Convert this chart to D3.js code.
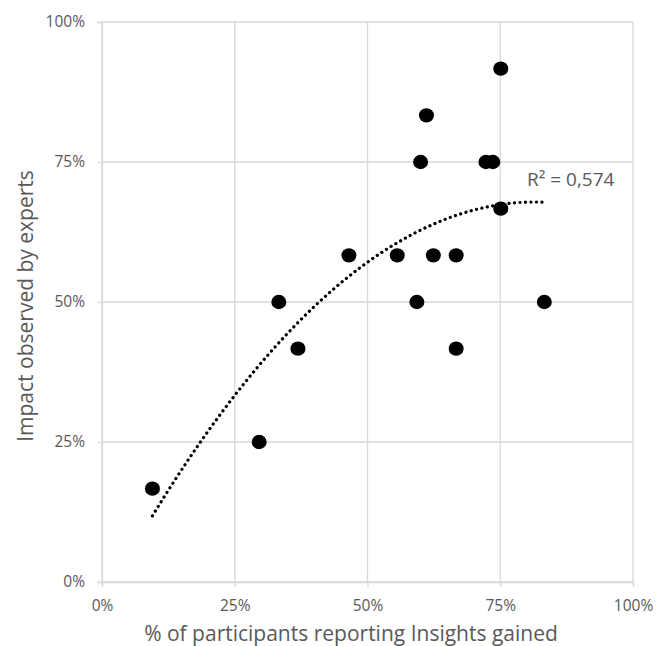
<!DOCTYPE html>
<html>
<head>
<meta charset="utf-8">
<script src="https://cdn.jsdelivr.net/npm/d3@7"></script>
<style>
  html, body { margin: 0; padding: 0; background: #fff; }
  svg { display: block; }
</style>
</head>
<body>
<svg id="chart" width="665" height="646"></svg>
<script>
// Share of participants reporting insights (x) vs impact observed by experts (y)
const insightsShare = [0.095, 0.296, 0.333, 0.369, 0.465, 0.556, 0.593, 0.600, 0.611, 0.624, 0.667, 0.667, 0.723, 0.736, 0.751, 0.751, 0.833];
const expertImpact  = [0.1667, 0.25, 0.50, 0.4167, 0.5833, 0.5833, 0.50, 0.75, 0.8333, 0.5833, 0.5833, 0.4167, 0.75, 0.75, 0.9167, 0.6667, 0.50];
const tickValues = [0, 0.25, 0.5, 0.75, 1];
const rSquaredLabel = "R² = 0,574";
const xTitle = "% of participants reporting Insights gained";
const yTitle = "Impact observed by experts";

const svg = d3.select("#chart");
const margin = { left: 102, right: 32, top: 22, bottom: 64 };
const W = 665, H = 646;

const x = d3.scaleLinear().domain([0, 1]).range([margin.left, W - margin.right]);
const y = d3.scaleLinear().domain([0, 1]).range([H - margin.bottom, margin.top]);

const gridColor = "#d9d9d9";
const textColor = "#595959";
const fontFamily = "'Open Sans', 'Liberation Sans', sans-serif";

// gridlines
svg.append("g").selectAll("line").data(tickValues).join("line")
  .attr("x1", d => x(d)).attr("x2", d => x(d))
  .attr("y1", y(0)).attr("y2", y(1))
  .attr("stroke", gridColor).attr("stroke-width", 1.3);
svg.append("g").selectAll("line").data(tickValues).join("line")
  .attr("x1", x(0)).attr("x2", x(1))
  .attr("y1", d => y(d)).attr("y2", d => y(d))
  .attr("stroke", gridColor).attr("stroke-width", 1.3);

// axes
const fmt = d3.format(".0%");
const xAxis = svg.append("g").attr("transform", `translate(0,${y(0)})`)
  .call(d3.axisBottom(x).tickValues(tickValues).tickFormat(fmt).tickSize(5).tickPadding(13));
const yAxis = svg.append("g").attr("transform", `translate(${x(0)},0)`)
  .call(d3.axisLeft(y).tickValues(tickValues).tickFormat(fmt).tickSize(5).tickPadding(12));
[xAxis, yAxis].forEach(a => {
  a.select(".domain").attr("stroke", gridColor).attr("stroke-width", 1.3);
  a.selectAll(".tick line").attr("stroke", gridColor).attr("stroke-width", 1.3);
  a.selectAll(".tick text").attr("fill", textColor)
    .style("font-family", fontFamily).style("font-size", "15.5px");
});

// quadratic least-squares trendline
const n = insightsShare.length;
const S = k => d3.sum(insightsShare, v => Math.pow(v, k));
const T = k => d3.sum(insightsShare, (v, i) => Math.pow(v, k) * expertImpact[i]);
const M = [[n, S(1), S(2)], [S(1), S(2), S(3)], [S(2), S(3), S(4)]];
const B = [T(0), T(1), T(2)];
function solve3(A, b) {
  const m = A.map((r, i) => [...r, b[i]]);
  for (let i = 0; i < 3; i++) {
    let p = i;
    for (let r = i + 1; r < 3; r++) if (Math.abs(m[r][i]) > Math.abs(m[p][i])) p = r;
    [m[i], m[p]] = [m[p], m[i]];
    for (let r = 0; r < 3; r++) {
      if (r === i) continue;
      const f = m[r][i] / m[i][i];
      for (let c = i; c < 4; c++) m[r][c] -= f * m[i][c];
    }
  }
  return m.map((r, i) => r[3] / r[i]);
}
const coef = solve3(M, B);
const fit = v => coef[0] + coef[1] * v + coef[2] * v * v;
const xMin = d3.min(insightsShare), xMax = d3.max(insightsShare);
const trendPts = d3.range(0, 101).map(i => xMin + (xMax - xMin) * i / 100);

svg.append("path")
  .datum(trendPts)
  .attr("d", d3.line().x(d => x(d)).y(d => y(fit(d))).curve(d3.curveLinear))
  .attr("fill", "none").attr("stroke", "#000").attr("stroke-width", 3.2)
  .attr("stroke-linecap", "round").attr("stroke-dasharray", "0.1 5.4");

// points
svg.append("g").selectAll("ellipse").data(insightsShare).join("ellipse")
  .attr("cx", (d) => x(d)).attr("cy", (d, i) => y(expertImpact[i]))
  .attr("rx", 7.5).attr("ry", 7.2).attr("fill", "#000");

// R² label
svg.append("text").attr("x", 527).attr("y", 186)
  .attr("fill", textColor).style("font-family", fontFamily).style("font-size", "19px")
  .text(rSquaredLabel);

// axis titles
svg.append("text").attr("x", 351).attr("y", 641)
  .attr("text-anchor", "middle").attr("fill", textColor)
  .style("font-family", fontFamily).style("font-size", "21px")
  .text(xTitle);
svg.append("text")
  .attr("transform", `translate(33,306) rotate(-90)`)
  .attr("text-anchor", "middle").attr("fill", textColor)
  .style("font-family", fontFamily).style("font-size", "21px")
  .text(yTitle);
</script>
</body>
</html>
